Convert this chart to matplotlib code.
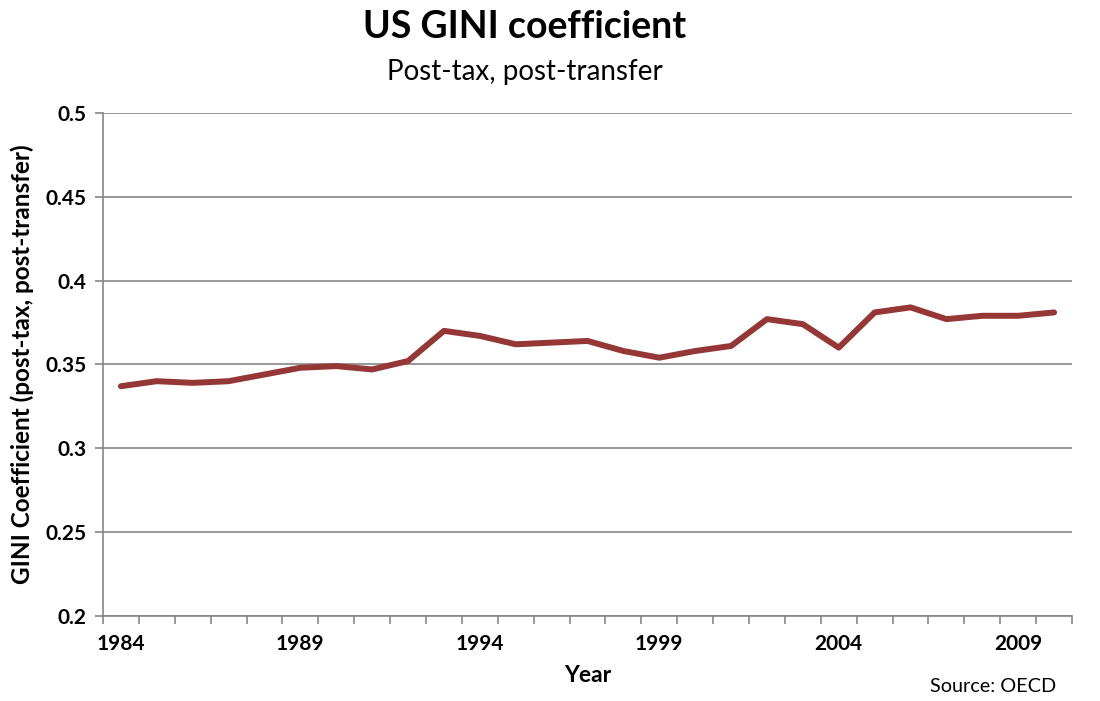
import numpy as np
import matplotlib.pyplot as plt

plt.rcParams['font.family'] = ['Lato', 'DejaVu Sans']

years = list(range(1984, 2011))
gini = [0.337, 0.340, 0.339, 0.340, 0.344, 0.348, 0.349, 0.347, 0.352, 0.370,
        0.367, 0.362, 0.363, 0.364, 0.358, 0.354, 0.358, 0.361, 0.377, 0.374,
        0.360, 0.381, 0.384, 0.377, 0.379, 0.379, 0.381]
yticks = [0.2, 0.25, 0.3, 0.35, 0.4, 0.45, 0.5]
ytick_labels = ['0.2', '0.25', '0.3', '0.35', '0.4', '0.45', '0.5']

grey = '#868686'

fig = plt.figure(figsize=(11, 7.01), dpi=100)
ax = fig.add_axes([0.0936, 0.1213, 0.881, 0.7177])

x = np.arange(len(years))
ax.plot(x, gini, color='#953735', lw=4.3, solid_joinstyle='round', solid_capstyle='round')

ax.set_xlim(-0.5, len(years) - 0.5)
ax.set_ylim(0.2, 0.5)

ax.set_yticks(yticks)
ax.set_yticklabels(ytick_labels, fontsize=15, fontweight='bold')
ax.yaxis.grid(True, color=grey, lw=1.2)
ax.set_axisbelow(True)

# category axis: tick marks between categories, labels every 5 years
ax.set_xticks(np.arange(-0.5, len(years), 1.0))
ax.set_xticklabels([])
ax.set_xticks(x[::5], minor=True)
ax.set_xticklabels([str(y) for y in years[::5]], minor=True, fontsize=15, fontweight='bold')
ax.tick_params(axis='x', which='major', length=6, color=grey, width=1.2, direction='out')
ax.tick_params(axis='x', which='minor', length=0, pad=13)
ax.tick_params(axis='y', length=6, color=grey, width=1.2, pad=6)

for s in ['top', 'right']:
    ax.spines[s].set_visible(False)
for s in ['left', 'bottom']:
    ax.spines[s].set_color(grey)
    ax.spines[s].set_linewidth(1.2)

ax.set_xlabel('Year', fontsize=16.5, fontweight='bold', labelpad=8)
ax.set_ylabel('GINI Coefficient (post-tax, post-transfer)', fontsize=17.5, fontweight='bold', labelpad=8)

fig.text(0.477, 0.962, 'US GINI coefficient', ha='center', va='center', fontsize=27, fontweight='bold')
fig.text(0.477, 0.897, 'Post-tax, post-transfer', ha='center', va='center', fontsize=20)
fig.text(0.96, 0.02, 'Source: OECD', ha='right', va='center', fontsize=14.3)

fig.savefig('out.png', dpi=100)
